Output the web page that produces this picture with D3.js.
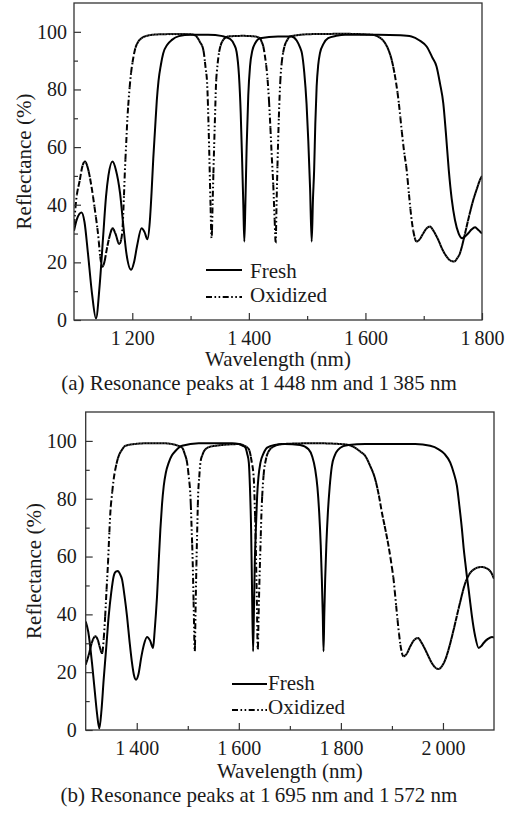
<!DOCTYPE html>
<html>
<head>
<meta charset="utf-8">
<script src="https://cdn.jsdelivr.net/npm/d3@7"></script>
<style>
  body { margin: 0; background: #fff; }
  svg { display: block; }
  svg text { font-family: "Liberation Serif", "Times New Roman", Times, "DejaVu Serif", serif; fill: #1a1a1a; }
</style>
</head>
<body>
<svg id="chart" width="512" height="818" font-family="Liberation Serif, Times New Roman, serif"></svg>
<script>
// ---- data: [wavelength nm, reflectance %] ----
const freshA = [[1100,31],[1105,35],[1113,37.3],[1118,34],[1124,23],[1131,9],[1137.7,0.5],[1144,12],[1150,29],[1155,43],[1159,50],[1166,55],[1172,52],[1179,44],[1185,32],[1190,23],[1198,17.4],[1203,20],[1208,25.5],[1216,31.8],[1221,30.5],[1226,28],[1230,34],[1233,44],[1236,56],[1239,66],[1242,76],[1245,83],[1249,88.5],[1253,92.5],[1260,95.5],[1268,97.2],[1280,98.5],[1300,99],[1330,99],[1355,98.5],[1368,97.5],[1375,95.5],[1379,93],[1383,85],[1386,72],[1388.5,55],[1390.5,40],[1392.2,27.2],[1394,40],[1396.2,60],[1399,78],[1402,88],[1406,93.5],[1411,96.1],[1419,97.8],[1450,98.4],[1473,98.4],[1482,97],[1488,94.5],[1491,92.6],[1495,86],[1499,75],[1502,62],[1505,46],[1507.8,27.2],[1510,42],[1512,52],[1514,68],[1516.3,81],[1519,88.5],[1522,92.6],[1528,95.8],[1536,97.8],[1550,98.6],[1565,99],[1622,99],[1660,98.8],[1679,98.4],[1693,97],[1705,94.9],[1715,91],[1722,88],[1728,82],[1733.6,75.2],[1738,65],[1743,52],[1748,42],[1753.6,34.7],[1760,30],[1766,28.4],[1771,29],[1776.5,30.1],[1782,31.4],[1788,32.2],[1792,31.6],[1796.5,30.7],[1800,30]];

const oxidizedA = [[1100,33],[1104,42],[1110,48.6],[1114,53],[1118.8,55],[1124,52.5],[1130,46.3],[1136,38],[1141.7,29],[1145,22],[1148.6,18.5],[1152,20],[1156,24.3],[1161,29],[1166.3,31.8],[1171,30],[1177.7,26.4],[1181,28],[1183.4,32.4],[1185.5,42],[1187.4,52.1],[1189.5,61],[1191.5,69.5],[1194,77],[1197.2,84.5],[1200.5,89.5],[1204.6,93.8],[1210,96.5],[1216,97.8],[1225,98.6],[1236,99],[1260,99.2],[1293,99.2],[1305,99],[1310,98.4],[1316,96.5],[1321.8,93.8],[1325.5,88],[1328.7,81],[1330.5,70],[1332.1,57.9],[1334,42],[1336.1,28.4],[1338,42],[1340.1,57.9],[1342,71],[1343.5,81],[1346,88],[1348.7,92.6],[1352,95.5],[1356.1,97.2],[1364.7,98.4],[1390,98.6],[1410,98.4],[1419,97.8],[1422,96.5],[1424.8,94.9],[1428,91],[1430.6,86.8],[1434,78],[1436.3,69.5],[1439,58],[1442,46.3],[1444,36],[1446,27.2],[1447.5,40],[1448.9,52.1],[1450.5,64],[1452.3,75.2],[1454,83],[1456.3,89.1],[1459,93],[1462,95.5],[1466,97.2],[1470.6,98.4],[1507.8,99.2],[1565,99.3],[1610,99],[1623,98.2],[1633.6,96.1],[1640,93.5],[1645,90.3],[1649.5,86],[1653.6,81],[1658,74],[1662.1,66],[1666,59],[1670.7,52.1],[1675,43],[1679.3,34.7],[1683,30],[1687.9,27.2],[1693,28],[1699.3,30.1],[1705,31.8],[1710.7,32.4],[1716,31.2],[1720,29.8],[1725,27.8],[1732,24.5],[1739.3,22],[1746,20.6],[1752.5,20.3],[1757,21.3],[1762.2,23.2],[1768,27.5],[1773.6,32.4],[1779,37],[1785.1,41.7],[1791,45.4],[1796.5,48.6],[1800,50]];

const freshB = [[1300,37.5],[1305,34],[1312.4,23.1],[1318,13],[1322,6],[1326.7,0.5],[1331,7],[1335.2,17.4],[1340,28],[1345,39.3],[1350,47.5],[1354.8,53.2],[1359,54.8],[1363.3,55],[1367,54],[1371.2,52.1],[1376,46.5],[1381,39.3],[1386,30.5],[1390.8,23.1],[1394.5,19],[1398.6,17.4],[1403,19],[1409.1,25.4],[1414,29.5],[1420.2,32.2],[1426,31],[1432,28.4],[1435,34],[1437.5,40],[1439.8,46.3],[1443,58],[1446.3,69.4],[1449.5,78],[1452.9,84.4],[1457,89],[1462.7,92.5],[1469,95],[1475.8,96.5],[1488.8,98.3],[1521.5,99.2],[1586.9,99.2],[1600,98.9],[1608,98.3],[1613,97.7],[1616.5,95.5],[1619.6,92.5],[1622,83],[1624.1,69.4],[1626.1,46.3],[1628,27.2],[1629.7,42],[1631.3,57.8],[1633.5,70],[1635.9,80.9],[1638.5,87.5],[1642.4,92.5],[1648,95.5],[1655.5,97.7],[1670,98.6],[1690,98.9],[1720,98.6],[1736.6,97.1],[1744,94.5],[1749.6,90.2],[1754,84],[1757.5,75.2],[1760.5,64],[1762.7,52.1],[1764.5,40],[1766,27.2],[1767.5,40],[1769.2,52.1],[1771.5,64],[1774.5,75.2],[1778,84],[1782.3,91.3],[1788,95],[1795.4,97.1],[1805,98.2],[1815,98.6],[1847.7,98.9],[1945.7,98.9],[1975,98.3],[1991.5,97.1],[2003,95.5],[2014.3,92.5],[2021,89],[2027.4,84.4],[2032.5,77],[2037.2,69.4],[2040.5,63],[2043.8,57.8],[2047,53],[2050.3,48.6],[2053.5,44],[2056.8,39.3],[2063,32.5],[2069.9,28.4],[2075,29],[2079.7,30.1],[2088,31.5],[2096.1,32.2],[2100,32]];

const oxidizedB = [[1300,22.6],[1306,26],[1312,30.2],[1318.9,32.4],[1324,31],[1328,28.4],[1332,26.6],[1335.5,32],[1338.5,40.5],[1341,49],[1343.7,57.8],[1346,67],[1348.3,75.2],[1351.5,81.5],[1354.8,86.7],[1359,91],[1364.7,94.8],[1371,96.9],[1377.7,98.3],[1400,99],[1423.5,99.2],[1450,99.2],[1469.2,98.9],[1480,98.4],[1488.8,97.7],[1494,95.5],[1498.6,92.5],[1502,87.5],[1505.2,80.9],[1507.5,70],[1509.7,57.8],[1511.7,42],[1513.7,27.2],[1515.3,42],[1517,57.8],[1518.6,70],[1520.2,80.9],[1522.5,87.5],[1524.8,92.5],[1529,95.3],[1534.6,97.1],[1544,98],[1554.2,98.3],[1600,98.9],[1610,98.4],[1619.6,97.1],[1625,93],[1629.4,86.7],[1631.2,78],[1632.6,69.4],[1634,57],[1635.2,46.3],[1637.2,27.8],[1638.8,40],[1640.5,52.1],[1642.5,64],[1644.4,75.2],[1646.5,83],[1649,89],[1653,93.5],[1658.8,96.5],[1670,98.2],[1684,98.9],[1749.6,99.2],[1800,98.9],[1815,98.6],[1828,97.6],[1838,96.3],[1847.7,94.8],[1857,91.5],[1867.3,86.7],[1874,81.5],[1880.4,75.2],[1887,69.5],[1893.4,63.6],[1898.5,58],[1903.2,52.1],[1908,43.5],[1913,34.7],[1917.5,28.5],[1922.8,25.5],[1929,26.4],[1935.9,28.9],[1943,31],[1951,31.8],[1958,30.2],[1965.3,27.8],[1972,25.3],[1978.4,23.1],[1985,21.6],[1991.5,21.1],[1998,22.1],[2004.5,24.3],[2012,28.5],[2020.9,34.7],[2032,43],[2043.8,50.9],[2052,54],[2060.1,55.5],[2068,56.2],[2076.4,56.4],[2083,56.1],[2089.5,55.5],[2095,54.3],[2099.3,52.6],[2100,52.3]];

// ticks and labels
const yMajor = [0, 20, 40, 60, 80, 100];
const yMinor = [10, 30, 50, 70, 90];
const xMajorA = [1200, 1400, 1600, 1800];
const xMinorA = [1300, 1500, 1700];
const xMajorB = [1400, 1600, 1800, 2000];
const xMinorB = [1500, 1700, 1900];
const legendNames = ["Fresh", "Oxidized"];
const captionA = "(a) Resonance peaks at 1\u2009448 nm and 1\u2009385 nm";
const captionB = "(b) Resonance peaks at 1\u2009695 nm and 1\u2009572 nm";

const FONT = '"Liberation Serif", "Times New Roman", Times, serif';
const svg = d3.select("#chart");
const fmt = d3.formatLocale({ decimal: ".", thousands: "\u2009", grouping: [3], currency: ["", ""] }).format(",");
const DASH = "6,2.5,1.6,2.5,1.6,2.5";

const panels = [
  { fresh: freshA, oxidized: oxidizedA, xDomain: [1100, 1800], xMajor: xMajorA, xMinor: xMinorA,
    left: 74, right: 482, top: 3, bottom: 320, yLabX: 31, yPad: 7,
    titleY: 366, caption: captionA, captionY: 389.5,
    leg: { x1: 206, x2: 242, tx: 250, ly: [270, 297], ty: [278, 302] } },
  { fresh: freshB, oxidized: oxidizedB, xDomain: [1300, 2100], xMajor: xMajorB, xMinor: xMinorB,
    left: 85.7, right: 494, top: 412, bottom: 730, yLabX: 41, yPad: 9,
    titleY: 778, caption: captionB, captionY: 801.5,
    leg: { x1: 232, x2: 267, tx: 268, ly: [684, 710], ty: [690, 713.5] } }
];

// draw a curve as many short pieces, each restarting the dash pattern,
// so flat stretches look solid and steep stretches look broken
function drawBroken(g, d, step) {
  const probe = g.append("path").attr("d", d).attr("fill", "none");
  const node = probe.node();
  const L = node.getTotalLength();
  const pieces = [];
  let cur = null, x0 = 0;
  for (let s = 0; s <= L + 0.25; s += 0.5) {
    const p = node.getPointAtLength(Math.min(s, L));
    if (!cur) { cur = [[p.x, p.y]]; x0 = p.x; continue; }
    cur.push([p.x, p.y]);
    if (p.x - x0 >= step) { pieces.push(cur); cur = [[p.x, p.y]]; x0 = p.x; }
  }
  if (cur && cur.length > 1) pieces.push(cur);
  probe.remove();
  g.selectAll(null)
    .data(pieces)
    .join("path")
    .attr("d", d3.line())
    .attr("fill", "none")
    .attr("stroke", "#000")
    .attr("stroke-width", 2)
    .attr("stroke-dasharray", DASH);
}

function label(g, txt, size) {
  return g.append("text").attr("font-family", FONT).attr("font-size", size).text(txt);
}

panels.forEach((p, i) => {
  const x = d3.scaleLinear().domain(p.xDomain).range([p.left, p.right]);
  const y = d3.scaleLinear().domain([0, 110]).range([p.bottom, p.top]);
  const g = svg.append("g");

  const clipId = "clip" + i;
  g.append("clipPath").attr("id", clipId)
    .append("rect").attr("x", p.left).attr("y", p.top)
    .attr("width", p.right - p.left).attr("height", p.bottom - p.top);

  const line = d3.line().x(d => x(d[0])).y(d => y(d[1])).curve(d3.curveMonotoneX);

  const curves = g.append("g").attr("clip-path", `url(#${clipId})`);
  drawBroken(curves, line(p.oxidized), 1.4);
  curves.append("path")
    .attr("d", line(p.fresh))
    .attr("fill", "none")
    .attr("stroke", "#000")
    .attr("stroke-width", 2);

  // axes (ticks inside)
  g.append("g").attr("transform", `translate(0,${p.bottom})`)
    .call(d3.axisBottom(x).tickValues(p.xMajor).tickSize(-7).tickPadding(11).tickFormat(fmt));
  g.append("g").attr("transform", `translate(0,${p.bottom})`)
    .call(d3.axisBottom(x).tickValues(p.xMinor).tickSize(-4).tickFormat(""));
  g.append("g").attr("transform", `translate(${p.left},0)`)
    .call(d3.axisLeft(y).tickValues(yMajor).tickSize(-7).tickPadding(p.yPad));
  g.append("g").attr("transform", `translate(${p.left},0)`)
    .call(d3.axisLeft(y).tickValues(yMinor).tickSize(-4).tickFormat(""));

  g.selectAll(".domain").remove();
  g.selectAll(".tick line").attr("stroke", "#333").attr("stroke-width", 1.2);
  g.selectAll("g").attr("font-family", FONT);
  g.selectAll(".tick text").attr("font-family", FONT).attr("font-size", 20).attr("fill", "#1a1a1a");

  g.append("rect")
    .attr("x", p.left).attr("y", p.top)
    .attr("width", p.right - p.left).attr("height", p.bottom - p.top)
    .attr("fill", "none").attr("stroke", "#333").attr("stroke-width", 1.3);

  // labels
  label(g, "Reflectance (%)", 21)
    .attr("transform", `translate(${p.yLabX},${(p.top + p.bottom) / 2}) rotate(-90)`)
    .attr("text-anchor", "middle");
  label(g, "Wavelength (nm)", 21)
    .attr("x", (p.left + p.right) / 2).attr("y", p.titleY)
    .attr("text-anchor", "middle");
  label(g, p.caption, 21)
    .attr("x", 259).attr("y", p.captionY)
    .attr("text-anchor", "middle");

  // legend
  legendNames.forEach((name, k) => {
    g.append("line")
      .attr("x1", p.leg.x1).attr("x2", p.leg.x2)
      .attr("y1", p.leg.ly[k]).attr("y2", p.leg.ly[k])
      .attr("stroke", "#000").attr("stroke-width", 2)
      .attr("stroke-dasharray", k === 0 ? null : DASH);
    label(g, name, 21).attr("x", p.leg.tx).attr("y", p.leg.ty[k]);
  });
});
</script>
</body>
</html>
